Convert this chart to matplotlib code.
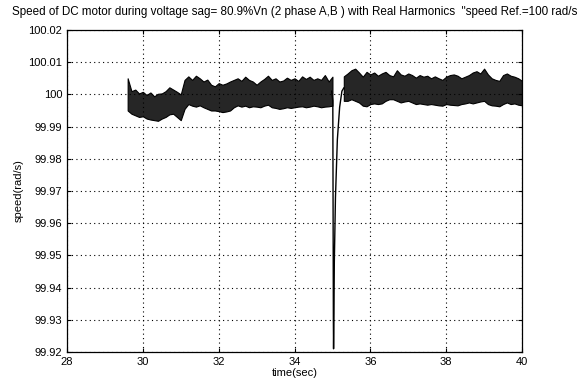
import numpy as np
import matplotlib.pyplot as plt
from matplotlib.ticker import FuncFormatter

plt.rcParams['font.family'] = ['Liberation Sans', 'DejaVu Sans']

# speed band before the sag (upper / lower envelope of the ripple), t = 29.6 .. 35.0
t_pre = np.round(np.arange(29.6, 35.05, 0.1), 2)
top_pre = [100.005, 100.001, 100.0015, 100.0003, 100.0008, 99.9998, 100.0006, 99.9994, 100.0002, 100.0003,
           100.001, 100.0022, 100.0015, 100.0008, 100.0, 100.0045, 100.0056, 100.0045, 100.0058, 100.005,
           100.004, 100.0046, 100.003, 100.0025, 100.0035, 100.003, 100.0034, 100.004, 100.0045, 100.005,
           100.0042, 100.0055, 100.0045, 100.004, 100.003, 100.004, 100.0048, 100.0058, 100.0045, 100.005,
           100.004, 100.0043, 100.0052, 100.0045, 100.005, 100.0042, 100.0056, 100.0048, 100.0055, 100.0045,
           100.005, 100.0045, 100.006, 100.004, 100.0055]
bot_pre = [99.995, 99.994, 99.9935, 99.993, 99.9932, 99.9925, 99.9922, 99.992, 99.9918, 99.9925,
           99.993, 99.9938, 99.994, 99.993, 99.992, 99.9955, 99.997, 99.9965, 99.9962, 99.9966,
           99.996, 99.9955, 99.995, 99.995, 99.9948, 99.9945, 99.9947, 99.995, 99.996, 99.9966,
           99.9962, 99.9965, 99.996, 99.9963, 99.9962, 99.996, 99.9965, 99.9968, 99.996, 99.9958,
           99.9955, 99.9957, 99.996, 99.9958, 99.996, 99.9962, 99.9963, 99.996, 99.9962, 99.9965,
           99.9963, 99.996, 99.9962, 99.9963, 99.9965]

# speed band after recovery, t = 35.3 .. 40.0
t_post = np.round(np.arange(35.3, 40.05, 0.1), 2)
top_post = [100.0056, 100.0065, 100.0075, 100.008, 100.0068, 100.0055, 100.007, 100.0062, 100.0068, 100.0058,
            100.0065, 100.007, 100.006, 100.0056, 100.0075, 100.0062, 100.0058, 100.0065, 100.006, 100.0052,
            100.006, 100.0055, 100.0058, 100.005, 100.0056, 100.005, 100.0045, 100.0055, 100.006, 100.0062,
            100.0058, 100.005, 100.0055, 100.006, 100.0068, 100.0072, 100.0065, 100.008, 100.0062, 100.005,
            100.0045, 100.0042, 100.006, 100.0065, 100.0058, 100.0055, 100.005, 100.0042]
bot_post = [99.998, 99.998, 99.9985, 99.998, 99.9975, 99.9965, 99.9963, 99.997, 99.9972, 99.997,
            99.9972, 99.998, 99.9985, 99.9985, 99.998, 99.9975, 99.9978, 99.998, 99.9975, 99.997,
            99.9972, 99.997, 99.9968, 99.997, 99.9968, 99.9966, 99.9965, 99.997, 99.9968, 99.9967,
            99.9966, 99.997, 99.9972, 99.9975, 99.9972, 99.9975, 99.9978, 99.998, 99.997, 99.9966,
            99.9965, 99.9963, 99.997, 99.9975, 99.997, 99.9972, 99.9968, 99.9966]

# the sag transient
t_sag = [34.98, 35.01, 35.025, 35.03, 35.04, 35.05, 35.08, 35.13, 35.19, 35.25, 35.30]
w_sag = [100.001, 99.998, 99.930, 99.921, 99.932, 99.948, 99.968, 99.986, 99.996, 100.001, 100.002]

xticks = [28, 30, 32, 34, 36, 38, 40]
yticks = [99.92, 99.93, 99.94, 99.95, 99.96, 99.97, 99.98, 99.99, 100.0, 100.01, 100.02]

fig = plt.figure(figsize=(5.79, 3.87), dpi=100)
ax = fig.add_axes([0.1157, 0.0904, 0.7859, 0.8321])

band = '0.15'
ax.fill_between(t_pre, bot_pre, top_pre, color=band, lw=0.8, edgecolor='k')
ax.fill_between(t_post, bot_post, top_post, color=band, lw=0.8, edgecolor='k')
ax.plot(t_sag, w_sag, color='k', lw=1.0)

ax.set_xlim(28, 40)
ax.set_ylim(99.92, 100.02)
ax.set_xticks(xticks)
ax.set_yticks(yticks)
ax.yaxis.set_major_formatter(FuncFormatter(lambda v, p: '%g' % round(v, 2)))
ax.grid(True, color='k', linestyle=(0, (1, 3)), linewidth=0.8)
ax.tick_params(direction='in', top=True, right=True, length=3, labelsize=8)
for s in ax.spines.values():
    s.set_linewidth(0.9)

ax.set_title('Speed of DC motor during voltage sag= 80.9%Vn (2 phase A,B ) with Real Harmonics  "speed Ref.=100 rad/s',
             fontsize=8.4, pad=11)
ax.set_xlabel('time(sec)', fontsize=8, labelpad=1)
ax.set_ylabel('speed(rad/s)', fontsize=8, labelpad=3)

fig.savefig('out.png', dpi=100)
